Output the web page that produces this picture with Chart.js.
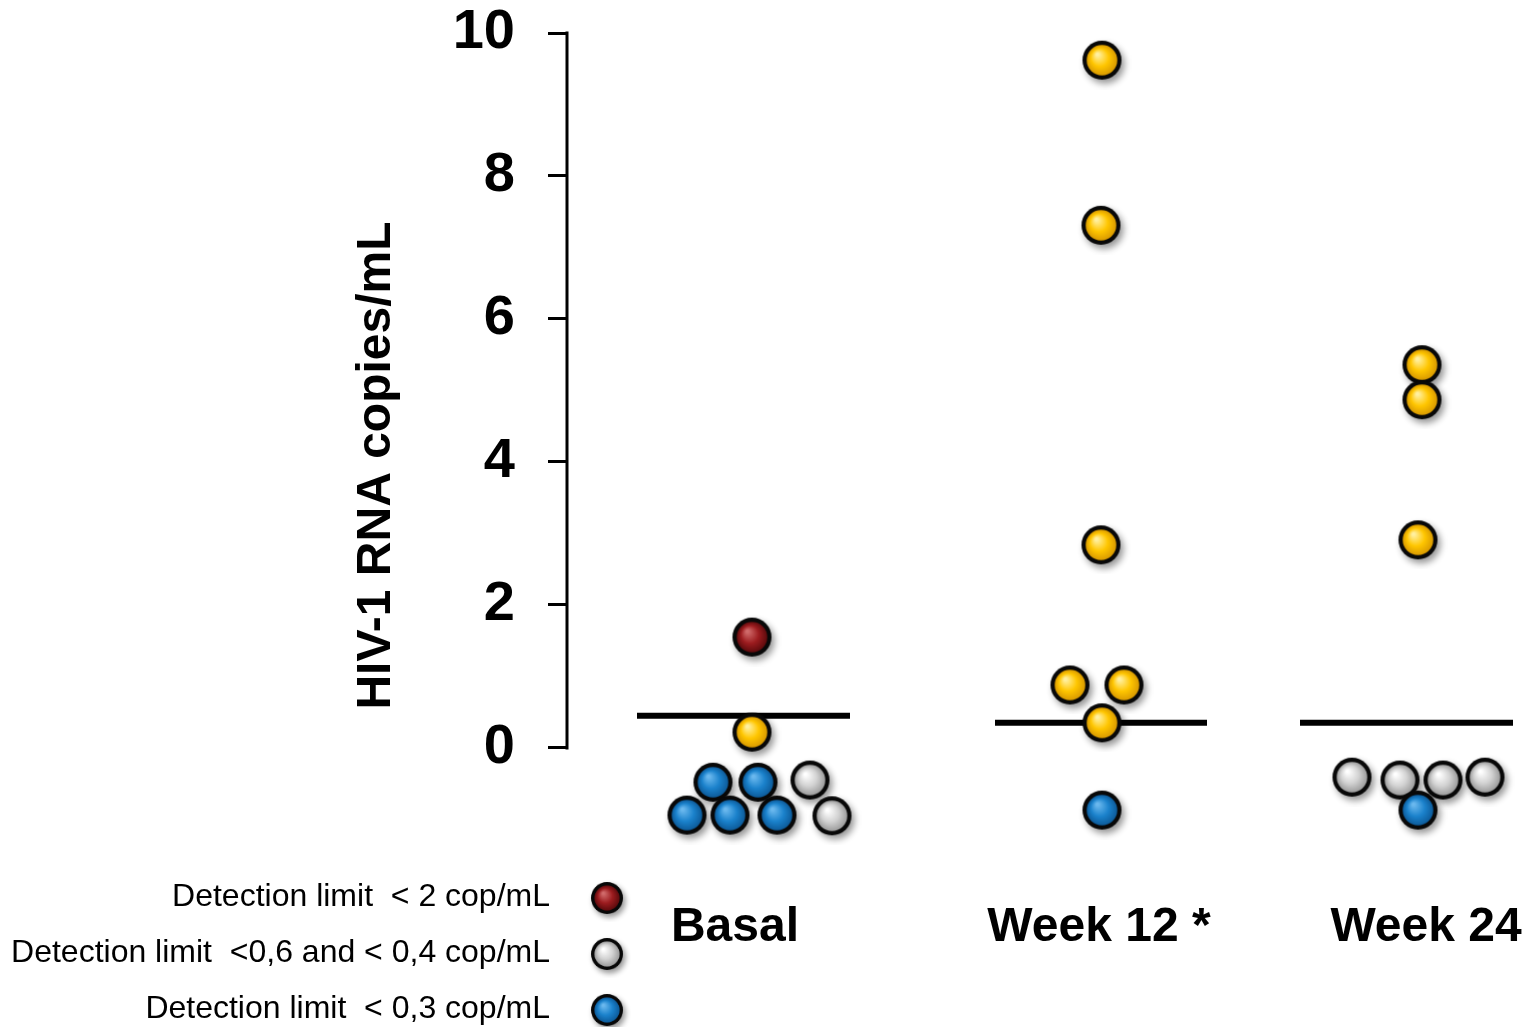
<!DOCTYPE html>
<html>
<head>
<meta charset="utf-8">
<title>HIV-1 RNA copies/mL</title>
<script src="https://cdn.jsdelivr.net/npm/chart.js@4/dist/chart.umd.min.js"></script>
<style>
  html, body { margin: 0; padding: 0; background: #ffffff; }
  #wrap { width: 1528px; height: 1027px; }
</style>
</head>
<body>
<div id="wrap"><canvas id="chart" width="1528" height="1027"></canvas></div>
<script>
// Timepoints and where their labels sit on the horizontal (group) axis
const groups = ['Basal', 'Week 12 *', 'Week 24'];
const groupLabelX = [16.7, 53.1, 85.8];

// Individual patients: position along the group axis and HIV-1 RNA (copies/mL)
const redX = [18.4];
const redY = [1.55];

const yellowX = [18.4, 53.4, 53.3, 53.3, 50.2, 55.6, 53.4, 85.4, 85.4, 85.0];
const yellowY = [0.22, 9.62, 7.31, 2.84, 0.88, 0.88, 0.35, 5.36, 4.87, 2.91];

const whiteX = [24.2, 26.4, 78.4, 83.2, 87.5, 91.7];
const whiteY = [-0.45, -0.95, -0.41, -0.45, -0.45, -0.41];

const blueX = [14.5, 19.0, 11.9, 16.2, 20.9, 53.4, 85.0];
const blueY = [-0.48, -0.48, -0.94, -0.94, -0.94, -0.87, -0.87];

// Median bar for each timepoint
const medianY = [0.45, 0.35, 0.35];
const medianFrom = [6.9, 42.7, 73.2];
const medianTo = [28.2, 63.9, 94.5];

// Y axis ticks
const yTicks = [0, 2, 4, 6, 8, 10];

// Legend entries
const legendLabels = [
  'Detection limit  < 2 cop/mL',
  'Detection limit  <0,6 and < 0,4 cop/mL',
  'Detection limit  < 0,3 cop/mL'
];

const FONT = '"Liberation Sans", Arial, Helvetica, sans-serif';

// Glossy ball sprite with black rim and soft drop shadow
function makeBall(base, light, dark, d) {
  const pad = 10;
  const size = d + pad * 2;
  const c = document.createElement('canvas');
  c.width = size; c.height = size;
  const g = c.getContext('2d');
  const cx = size / 2, cy = size / 2, r = d / 2;
  g.save();
  g.shadowColor = 'rgba(0,0,0,0.42)';
  g.shadowBlur = 7;
  g.shadowOffsetX = 3;
  g.shadowOffsetY = 4;
  g.beginPath(); g.arc(cx, cy, r, 0, Math.PI * 2);
  g.fillStyle = '#080808'; g.fill();
  g.restore();
  const inner = r - 4.2;
  const grad = g.createRadialGradient(cx - inner * 0.3, cy - inner * 0.38, inner * 0.08, cx, cy, inner);
  grad.addColorStop(0, light);
  grad.addColorStop(0.55, base);
  grad.addColorStop(1, dark);
  g.beginPath(); g.arc(cx, cy, inner, 0, Math.PI * 2);
  g.fillStyle = grad; g.fill();
  return c;
}

const balls = {
  red: makeBall('#9c1c1f', '#d06a6a', '#5e0b0d', 39),
  yellow: makeBall('#ffc600', '#fff0a0', '#d99a00', 39),
  white: makeBall('#d2d2d2', '#ffffff', '#9c9c9c', 39),
  blue: makeBall('#1b82cc', '#6ab8ee', '#0d5b9a', 39)
};
const legendBalls = [balls.red, balls.white, balls.blue];

function pts(xs, ys) { return xs.map((x, i) => ({ x: x, y: ys[i] })); }

function ballSet(label, xs, ys, sprite, order) {
  return {
    type: 'scatter', label: label, data: pts(xs, ys), order: order,
    pointStyle: sprite, pointRadius: 19, pointHoverRadius: 19
  };
}

const medianSets = medianY.map((y, i) => ({
  type: 'line', label: 'Median ' + groups[i], order: 10,
  data: [{ x: medianFrom[i], y: y }, { x: medianTo[i], y: y }],
  borderColor: '#000000', borderWidth: 6, pointRadius: 0, borderCapStyle: 'butt',
  fill: false, tension: 0
}));

// Y axis line (0 to 10 only) and the right-aligned legend in the lower left
const decorations = {
  id: 'decorations',
  afterDatasetsDraw(chart) {
    const ctx = chart.ctx;
    const ys = chart.scales.y;
    const x0 = chart.chartArea.left;
    ctx.save();
    ctx.strokeStyle = '#000000';
    ctx.lineWidth = 3;
    ctx.beginPath();
    ctx.moveTo(x0 - 1, ys.getPixelForValue(yTicks[0]) + 1.5);
    ctx.lineTo(x0 - 1, ys.getPixelForValue(yTicks[yTicks.length - 1]) - 1.5);
    ctx.stroke();

    ctx.font = '32px ' + FONT;
    ctx.fillStyle = '#000000';
    ctx.textAlign = 'right';
    ctx.textBaseline = 'middle';
    const rowY = [897, 953, 1009];
    legendLabels.forEach((t, i) => {
      ctx.fillText(t, x0 - 18, rowY[i]);
      const s = legendBalls[i];
      const k = 0.82;
      ctx.drawImage(s, 607 - s.width * k / 2, rowY[i] + 1 - s.height * k / 2, s.width * k, s.height * k);
    });
    ctx.restore();
  }
};

new Chart(document.getElementById('chart'), {
  data: {
    datasets: [
      ballSet('< 0,3 cop/mL', blueX, blueY, balls.blue, 1),
      ballSet('<0,6 and < 0,4 cop/mL', whiteX, whiteY, balls.white, 2),
      ballSet('Detected', yellowX, yellowY, balls.yellow, 3),
      ballSet('< 2 cop/mL', redX, redY, balls.red, 4),
      ...medianSets
    ]
  },
  options: {
    responsive: false,
    devicePixelRatio: 1,
    animation: false,
    events: [],
    layout: { autoPadding: false, padding: { top: 33, left: 0, right: 0, bottom: 0 } },
    plugins: { legend: { display: false }, tooltip: { enabled: false } },
    scales: {
      x: {
        type: 'linear', position: 'bottom', min: 0, max: 96,
        grid: { display: false, drawTicks: false },
        border: { display: false },
        afterBuildTicks(scale) { scale.ticks = groupLabelX.map(v => ({ value: v })); },
        afterFit(scale) { scale.height = 129; scale.paddingLeft = 0; scale.paddingRight = 0; },
        ticks: {
          autoSkip: false, maxRotation: 0, minRotation: 0, padding: 6,
          color: '#000000',
          font: { family: FONT, size: 48, weight: 'bold', lineHeight: 1 },
          callback: (v, i) => groups[i]
        }
      },
      y: {
        type: 'linear', position: 'left', min: -2.1, max: 10,
        afterBuildTicks(scale) { scale.ticks = yTicks.map(v => ({ value: v })); },
        afterFit(scale) { scale.width = 568; scale.paddingTop = 0; scale.paddingBottom = 0; },
        grid: {
          display: true, drawOnChartArea: false, drawTicks: true,
          tickLength: 20, lineWidth: 3, color: '#000000'
        },
        border: { display: false },
        ticks: {
          padding: 33, color: '#000000',
          font: { family: FONT, size: 56, weight: 'bold', lineHeight: 1 }
        },
        title: {
          display: true, text: 'HIV-1 RNA copies/mL', color: '#000000',
          padding: { top: 348, bottom: 0 },
          font: { family: FONT, size: 48, weight: 'bold', lineHeight: 1.2 }
        }
      }
    }
  },
  plugins: [decorations]
});
</script>
</body>
</html>
